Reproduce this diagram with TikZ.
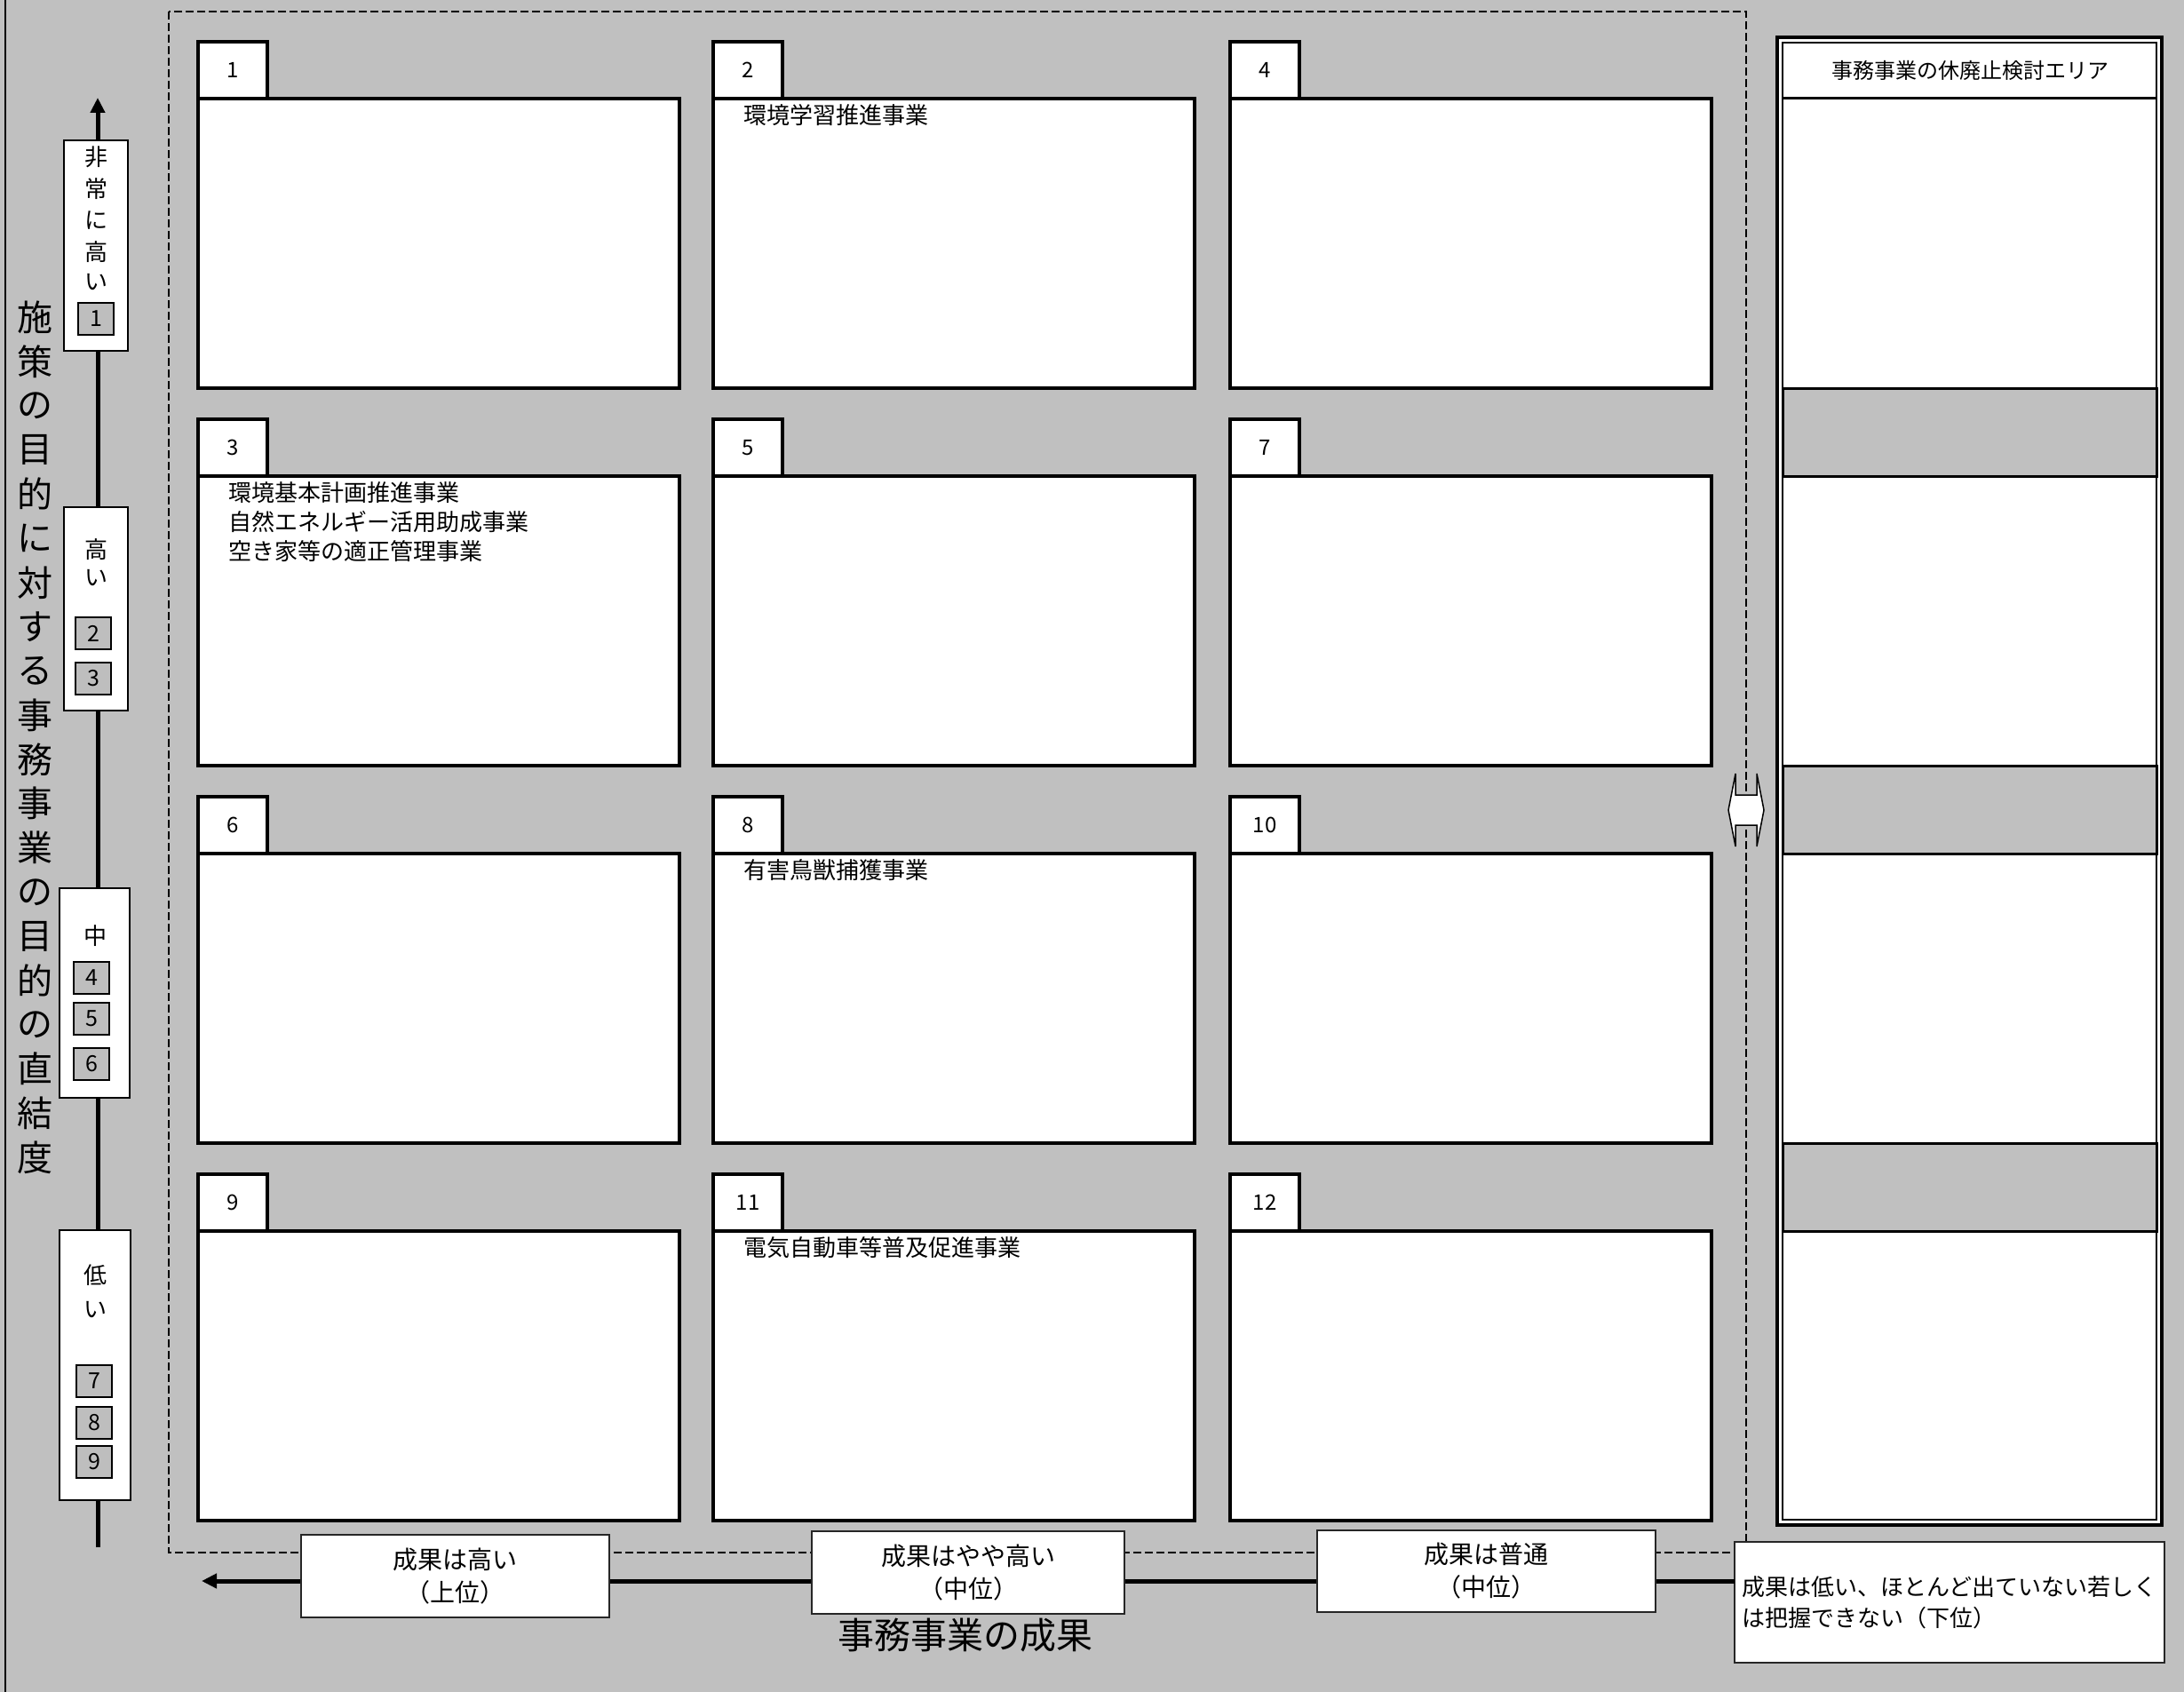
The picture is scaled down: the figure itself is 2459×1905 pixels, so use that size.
\documentclass[tikz,border=0pt]{standalone}
\usepackage{fontspec}
\setmainfont{Noto Sans CJK JP}
\usetikzlibrary{arrows.meta, positioning}
\definecolor{sheetgray}{RGB}{192,192,192}
\definecolor{numgray}{RGB}{190,190,190}
\tikzset{
  dashframe/.style={line width=2.5pt, dash pattern=on 9pt off 4pt},
  axisline/.style={line width=5pt, -{Triangle[length=17pt, width=16pt]}},
  levelbox/.style={draw, line width=2.5pt, fill=white, inner sep=0pt, outer sep=0pt},
  levelchar/.style={inner sep=0pt, font=\fontsize{26}{26}\selectfont},
  numbox/.style={draw, line width=2pt, fill=numgray, minimum width=40pt, minimum height=36pt,
                 inner sep=0pt, font=\fontsize{25}{25}\selectfont},
  tabbox/.style={draw, line width=3.5pt, fill=white, minimum width=78pt, minimum height=64pt,
                 inner sep=0pt, outer sep=0pt, anchor=north west, font=\fontsize{24}{24}\selectfont},
  cellbox/.style={draw, line width=3.5pt, fill=white, minimum width=542pt, minimum height=326pt,
                  inner sep=0pt, outer sep=0pt},
  celltext/.style={anchor=north west, inner sep=0pt, align=left, font=\fontsize{26}{33}\selectfont},
  scalebox/.style={draw=black!85, line width=2.5pt, fill=white, inner sep=0pt, outer sep=0pt,
                   align=center, font=\fontsize{28}{37}\selectfont},
  titlechar/.style={inner sep=0pt, font=\fontsize{40}{40}\selectfont}
}

\begin{document}
\begin{tikzpicture}[x=1pt, y=-1pt]
  \useasboundingbox (0,0) rectangle (2459,1905);
  % Sheet background
  \fill[sheetgray] (0,0) rectangle (2459,1905);
  \draw[line width=2.5pt] (6,0) -- (6,1905);
  % Dashed frame round the grid
  \draw[dashframe] (190,13) rectangle (1966,1748);
  % Axes
  \coordinate (vbot) at (110,1742);
  \coordinate (vtop) at (110,110);
  \draw[axisline] (vbot) -- (vtop);
  \coordinate (htip) at (227,1780);

  % Levels on the vertical axis
  \node[levelbox, minimum width=72pt, minimum height=237pt] (lvA) at (108,276.5) {};
  \foreach [count=\i] \c/\y in {非/177, 常/213, に/248, 高/284, い/318}
    \node[levelchar] (lvA\i) at (108,\y) {\c};
  \node[levelbox, minimum width=72pt, minimum height=229pt] (lvB) at (108,685.5) {};
  \foreach [count=\i] \c/\y in {高/619, い/651}
    \node[levelchar] (lvB\i) at (108,\y) {\c};
  \node[levelbox, minimum width=79pt, minimum height=236pt] (lvC) at (106.5,1118) {};
  \node[levelchar] (lvC1) at (107,1054) {中};
  \node[levelbox, minimum width=80pt, minimum height=304pt] (lvD) at (107,1537) {};
  \foreach [count=\i] \c/\y in {低/1436, い/1474}
    \node[levelchar] (lvD\i) at (107,\y) {\c};
  \foreach \n/\x/\y in {1/108/359, 2/105/713, 3/105/764, 4/103/1101, 5/103/1147,
                        6/103/1198, 7/106/1555, 8/106/1602, 9/106/1646}
    \node[numbox] (num\n) at (\x,\y) {\n};

  % Vertical axis title
  \foreach [count=\i] \c in {施,策,の,目,的,に,対,す,る,事,務,事,業,の,目,的,の,直,結,度}
    \node[titlechar] (ytitle\i) at (39,{357+49.8*(\i-1)}) {\c};

  % Grid of cells
  \foreach \n/\x/\y in {1/223/47, 2/803/47, 4/1385/47, 3/223/472, 5/803/472, 7/1385/472,
                        6/223/897, 8/803/897, 10/1385/897, 9/223/1322, 11/803/1322, 12/1385/1322} {
    \node[tabbox] (tab\n) at (\x,\y) {\n};
    \node[cellbox, below=0pt of tab\n.south west, anchor=north west] (cell\n) {};
  }
  \node[celltext] (txt2) at ([xshift=34pt, yshift=-6pt]cell2.north west) {環境学習推進事業};
  \node[celltext] (txt3) at ([xshift=34pt, yshift=-6pt]cell3.north west)
    {環境基本計画推進事業\\自然エネルギー活用助成事業\\空き家等の適正管理事業};
  \node[celltext] (txt8) at ([xshift=34pt, yshift=-6pt]cell8.north west) {有害鳥獣捕獲事業};
  \node[celltext] (txt11) at ([xshift=34pt, yshift=-6pt]cell11.north west) {電気自動車等普及促進事業};

  % Area for stopping or abolishing
  \node[draw, line width=4pt, fill=white, minimum width=433pt, minimum height=1675pt,
        inner sep=0pt, outer sep=0pt, anchor=north west] (stoparea) at (2001,42) {};
  \node[draw, line width=2.5pt, minimum width=421pt, minimum height=1663pt,
        inner sep=0pt, outer sep=0pt] (stopinner) at (stoparea.center) {};
  \draw[line width=3pt] (stopinner.west |- cell1.north) -- (stopinner.east |- cell1.north);
  \foreach \a/\b in {1/3, 3/6, 6/9}
    \draw[line width=3pt, fill=sheetgray] (stopinner.west |- cell\a.south) rectangle (stopinner.east |- cell\b.north);
  \node[inner sep=0pt, font=\fontsize{24}{24}\selectfont] (stophead) at (2218,79) {事務事業の休廃止検討エリア};

  % Double arrow on the frame
  \coordinate (dbl) at (1966,912);
  \filldraw[fill=white, line width=1.5pt, line join=miter]
    (dbl) ++(-20,0) -- ++(8,-41) -- ++(0,24) -- ++(24,0) -- ++(0,-24) -- ++(8,41)
    -- ++(-8,41) -- ++(0,-24) -- ++(-24,0) -- ++(0,24) -- cycle;

  % Results on the horizontal axis
  \node[scalebox, minimum width=484pt, minimum height=136pt, align=left, text width=468pt,
        inner xsep=8pt, font=\fontsize{26}{35}\selectfont] (resD) at (2195,1804)
    {成果は低い、ほとんど出ていない若しく\\は把握できない（下位）};
  \draw[axisline] (resD.west |- htip) -- (htip);
  \node[scalebox, minimum width=347pt, minimum height=93pt] (resA) at (512.5,1774.5) {成果は高い\\（上位）};
  \node[scalebox, minimum width=352pt, minimum height=93pt] (resB) at (1090,1770.5) {成果はやや高い\\（中位）};
  \node[scalebox, minimum width=381pt, minimum height=92pt] (resC) at (1673.5,1769) {成果は普通\\（中位）};
  \node[inner sep=0pt, font=\fontsize{41}{41}\selectfont] (xtitle) at (1087,1841) {事務事業の成果};
\end{tikzpicture}
\end{document}
